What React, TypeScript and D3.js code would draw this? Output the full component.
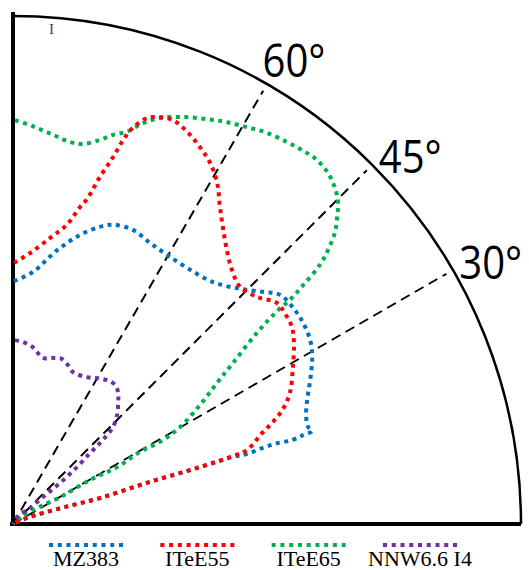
import * as d3 from "d3";

// polar diagram, coordinates in % of the outer radius (x to the right, y up)
type Pt = [number, number];

const MZ383: Pt[] = [
  [0.2, 47.8], [3.9, 49.6], [8.7, 53.9], [13.2, 56.9], [17.1, 58.5], [19.7, 58.9],
  [23.6, 57.9], [27.0, 55.3], [30.3, 53.0], [34.3, 50.4], [39.4, 47.6], [44.7, 46.3],
  [49.2, 45.7], [52.6, 45.1], [55.5, 42.1], [57.1, 39.6], [58.5, 36.2], [58.9, 32.9],
  [58.5, 28.3], [57.9, 24.4], [57.7, 21.1], [58.1, 19.1], [58.9, 18.3], [57.1, 17.5],
  [54.9, 16.5], [52.0, 15.9], [49.2, 15.0], [46.1, 13.8], [43.3, 13.2], [36.8, 11.2],
  [27.0, 8.3], [17.1, 5.1], [9.3, 3.1], [2.8, 1.2], [0, 0],
];

const ITeE55: Pt[] = [
  [0.2, 51.4], [3.3, 53.3], [7.3, 56.3], [10.6, 58.9], [13.2, 62.4], [14.6, 64.0],
  [17.1, 68.3], [19.7, 72.2], [21.7, 75.6], [23.6, 78.0], [26.4, 79.9], [28.9, 80.1],
  [31.5, 79.5], [34.3, 77.2], [36.8, 74.2], [38.8, 71.1], [40.2, 67.1], [40.7, 62.8],
  [41.3, 58.5], [42.1, 53.9], [43.1, 50.0], [44.7, 46.7], [48.0, 44.7], [52.0, 43.5],
  [53.5, 41.5], [54.9, 38.8], [55.3, 35.6], [55.1, 30.9], [54.5, 25.8], [53.0, 22.4],
  [51.0, 19.9], [49.2, 18.1], [46.1, 14.6], [43.3, 13.4], [36.8, 11.2], [27.0, 8.3],
  [17.1, 5.1], [9.3, 3.1], [2.8, 1.2], [0, 0],
];

const ITeE65: Pt[] = [
  [0.4, 79.5], [3.9, 78.3], [7.9, 76.6], [11.2, 75.2], [13.8, 74.8], [17.1, 75.6],
  [19.7, 76.6], [22.4, 77.2], [25.6, 78.9], [28.9, 79.9], [33.5, 80.1], [38.2, 79.7],
  [42.1, 79.1], [46.1, 78.1], [50.0, 77.0], [53.9, 75.2], [56.9, 73.6], [59.8, 71.7],
  [62.0, 69.1], [63.4, 66.1], [64.0, 63.2], [63.8, 60.4], [63.4, 57.5], [62.0, 53.9],
  [60.4, 51.0], [57.1, 47.0], [54.5, 44.1], [52.2, 42.1], [48.0, 37.6], [43.3, 31.7],
  [40.2, 27.8], [36.8, 23.4], [32.9, 19.1], [29.5, 16.5], [25.0, 14.2], [20.5, 11.2],
  [15.2, 8.7], [9.3, 5.3], [4.7, 3.1], [1.4, 1.2], [0, 0],
];

const NNW66I4: Pt[] = [
  [0.4, 36.2], [2.0, 35.8], [3.9, 34.8], [5.9, 32.7], [7.9, 32.7], [9.6, 32.5],
  [10.8, 31.3], [11.8, 29.9], [14.6, 28.9], [16.7, 28.7], [18.5, 28.3], [20.1, 27.4],
  [20.7, 25.8], [20.7, 24.0], [20.5, 21.5], [19.7, 19.1], [18.5, 17.5], [17.1, 15.9],
  [15.2, 14.0], [12.6, 11.2], [9.3, 8.1], [5.9, 5.3], [3.3, 3.1], [0.8, 1.4], [0, 0],
];

const SERIES = [
  { name: "MZ383", data: MZ383, color: "#0070c0" },
  { name: "ITeE65", data: ITeE65, color: "#00b050" },
  { name: "ITeE55", data: ITeE55, color: "#ff0000" },
  { name: "NNW6.6 I4", data: NNW66I4, color: "#7030a0" },
];
const LEGEND_ORDER = ["MZ383", "ITeE55", "ITeE65", "NNW6.6 I4"];

const GUIDE_ANGLES = [30, 45, 60];
const GUIDE_LABELS = ["30°", "45°", "60°"];

export default function App() {
  const width = 529;
  const height = 570;
  const ox = 13;
  const oy = 524;
  const R = 508;

  const x = d3.scaleLinear().domain([0, 100]).range([ox, ox + R]);
  const y = d3.scaleLinear().domain([0, 100]).range([oy, oy - R]);

  const line = d3
    .line<Pt>()
    .x((d) => x(d[0]))
    .y((d) => y(d[1]))
    .curve(d3.curveCatmullRom.alpha(0.5));

  const arc = d3.arc()({
    innerRadius: R,
    outerRadius: R,
    startAngle: 0,
    endAngle: Math.PI / 2,
  }) as string;

  const polar = (deg: number, r: number): [number, number] => {
    const a = (deg * Math.PI) / 180;
    return [x(r * Math.cos(a)), y(r * Math.sin(a))];
  };

  // label nudges, by angle
  const labelOffset: Record<number, [number, number]> = {
    30: [2, 12],
    45: [3, 12],
    60: [-7, -3],
  };

  const legendX = d3.scalePoint<string>().domain(LEGEND_ORDER).range([86, 420]);

  return (
    <svg
      width={width}
      height={height}
      style={{ position: "absolute", left: 0, top: 0, background: "#fff" }}
    >
      {/* guide lines */}
      {GUIDE_ANGLES.map((a) => {
        const [x2, y2] = polar(a, 98.5);
        return (
          <line
            key={a}
            x1={x(0)}
            y1={y(0)}
            x2={x2}
            y2={y2}
            stroke="#000"
            strokeWidth={2}
            strokeDasharray="10 6"
          />
        );
      })}

      {/* outer arc */}
      <path
        d={arc}
        transform={`translate(${x(0)},${y(0)})`}
        fill="none"
        stroke="#000"
        strokeWidth={2.5}
      />

      {/* axes */}
      <line x1={x(0)} y1={y(0) + 2} x2={x(0)} y2={y(100) - 4} stroke="#000" strokeWidth={4} />
      <line x1={x(0) - 3} y1={y(0)} x2={x(100)} y2={y(0)} stroke="#000" strokeWidth={4} />

      {GUIDE_ANGLES.map((a, i) => {
        const [lx, ly] = polar(a, 101);
        const [dx, dy] = labelOffset[a];
        return (
          <text
            key={a}
            transform={`translate(${lx + dx},${ly + dy}) scale(0.87,1)`}
            fontFamily="'Open Sans', 'Noto Sans', sans-serif"
            fontSize={46}
            fill="#000"
          >
            {GUIDE_LABELS[i]}
          </text>
        );
      })}

      {/* curves */}
      {SERIES.map((s) => (
        <path
          key={s.name}
          d={line(s.data) as string}
          fill="none"
          stroke={s.color}
          strokeWidth={4}
          strokeDasharray="4 4.5"
        />
      ))}

      {/* cursor artefact in the corner */}
      <text x={49} y={34} fontFamily="'Liberation Serif', serif" fontSize={15} fill="#444">
        I
      </text>

      {/* legend */}
      {LEGEND_ORDER.map((name) => {
        const s = SERIES.find((d) => d.name === name)!;
        const cx = legendX(name)!;
        return (
          <g key={name}>
            <line
              x1={cx - 37}
              x2={cx + 37}
              y1={545}
              y2={545}
              stroke={s.color}
              strokeWidth={4}
              strokeDasharray="4 4.75"
            />
            <text
              x={cx}
              y={566}
              textAnchor="middle"
              fontFamily="'Liberation Serif', serif"
              fontSize={22}
              fill="#000"
            >
              {name}
            </text>
          </g>
        );
      })}
    </svg>
  );
}
